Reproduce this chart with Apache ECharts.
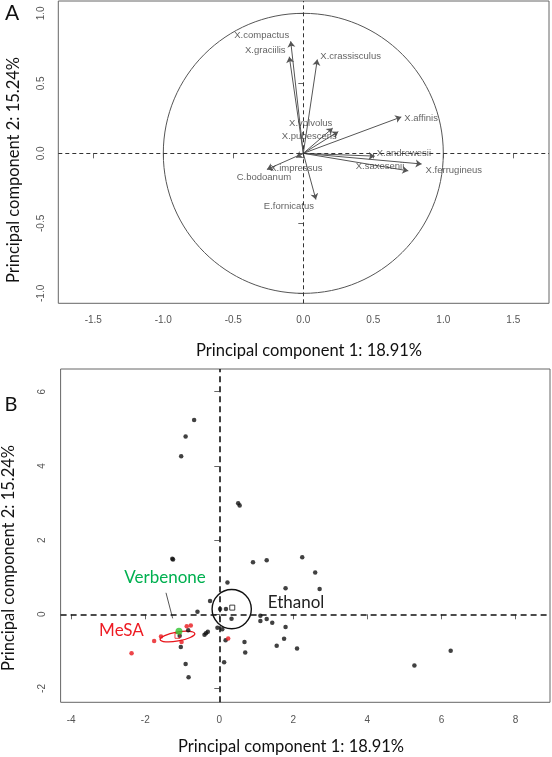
<!DOCTYPE html>
<html><head><meta charset="utf-8">
<script src="https://cdn.jsdelivr.net/npm/echarts@6/dist/echarts.min.js"></script>
<style>html,body{margin:0;padding:0;background:#fff}#c{width:552px;height:757px}</style>
</head><body><div id="c"></div>
<script>
// ---------- DATA ----------
// Panel A: variable loadings (correlation circle)
const speciesNames = ['X.compactus','X.graciilis','X.crassisculus','X.affinis','X.volvolus','X.pubescens','X.andrewesii','X.ferrugineus','X.saxesenii','X.impressus','C.bodoanum','E.fornicatus'];
const loadingPC1 = [-0.09,-0.10, 0.10, 0.70, 0.21, 0.25, 0.51, 0.845, 0.75,-0.05,-0.26, 0.09];
const loadingPC2 = [ 0.80, 0.69, 0.67, 0.26, 0.18, 0.155,-0.02,-0.076,-0.125,-0.03,-0.115,-0.33];
const corCircle = [0, 0, 1]; // cx, cy, radius
const ticksA_x = [-1.5,-1.0,-0.5,0.0,0.5,1.0,1.5];
const ticksA_y = [-1.0,-0.5,0.0,0.5,1.0];

// Panel B: sample scores
const blackPC1 = [-0.68,-0.91,-1.03,0.51,0.55,-1.27,-1.25,0.91,1.28,2.24,2.59,1.79,2.71,0.22,-0.25,-0.59,0.02,0.18,0.33,1.11,1.11,1.28,1.43,1.79,1.75,1.55,2.10,0.68,0.70,0.13,0.17,-0.05,0.08,-0.40,-0.36,-0.31,-0.84,-1.07,-1.04,-0.91,-0.83,5.27,6.25];
const blackPC2 = [5.24,4.79,4.26,2.99,2.93,1.50,1.48,1.40,1.46,1.54,1.13,0.70,0.68,0.86,0.36,0.07,0.14,0.14,-0.12,-0.04,-0.18,-0.13,-0.23,-0.34,-0.66,-0.85,-0.92,-0.75,-1.03,-1.29,-0.70,-0.36,-0.40,-0.55,-0.51,-0.47,-0.43,-0.58,-0.88,-1.34,-1.70,-1.38,-0.98];
const redPC1 = [-2.37,-1.76,-1.575,-1.02,-0.88,-0.77,0.24];
const redPC2 = [-1.05,-0.72,-0.60,-0.75,-0.32,-0.30,-0.65];
const verbenonePC1 = [-1.09];
const verbenonePC2 = [-0.46];
const ethanolCentroid = [0.35, 0.18];
const mesaCentroid = [-1.13, -0.58];
const ethanolEllipse = [0.335, 0.14, 0.53, 0.53, 0];   // cx, cy, rx, ry, angle(deg)
const mesaEllipse = [-1.13, -0.60, 0.475, 0.12, 10];
const verbenonePointer = [[-1.44, 0.58], [-1.26, -0.11]];
const ticksB_x = [-4,-2,0,2,4,6,8];
const ticksB_y = [-2,0,2,4,6];
const titlePC1 = 'Principal component 1: 18.91%';
const titlePC2 = 'Principal component 2: 15.24%';

// ---------- STYLE ----------
const labelOffsets = {
  'X.compactus':[-29,-6,'center'], 'X.graciilis':[-24,-6,'center'], 'X.crassisculus':[3,-3,'left'],
  'X.affinis':[3,1,'left'], 'X.volvolus':[-22,-5,'center'], 'X.pubescens':[-29,5,'center'],
  'X.andrewesii':[2,-3,'left'], 'X.ferrugineus':[4,6,'left'], 'X.saxesenii':[-4,-4,'right'],
  'X.impressus':[0,11,'center'], 'C.bodoanum':[-3,8,'center'], 'E.fornicatus':[-27,7,'center']
};
const tickFont = {fontFamily:'Liberation Sans, Arial, sans-serif', fontSize:10, color:'#555'};
const titleFont = 'Lato, "Noto Sans", sans-serif';

function ellipseRender(color, lw){
  return function(params, api){
    const c = api.coord([api.value(0), api.value(1)]);
    const rx = api.size([api.value(2), 0])[0];
    const ry = api.size([0, api.value(3)])[1];
    return {type:'ellipse', x:c[0], y:c[1], rotation: api.value(4)*Math.PI/180,
      shape:{cx:0, cy:0, rx:rx, ry:ry}, style:{fill:'none', stroke:color, lineWidth:lw}};
  };
}

const pairs = (a,b) => a.map((v,i)=>[v,b[i]]);

const axisCommon = {
  type:'value', axisLine:{show:false}, splitLine:{show:false},
  axisTick:{show:true, inside:false, length:5, lineStyle:{color:'#666'}}
};

const option = {
  animation:false,
  grid:[
    {left:58.3, top:1, width:490.7, height:302.3, show:true, borderColor:'#666', borderWidth:1},
    {left:60.6, top:369, width:489.4, height:333.3, show:true, borderColor:'#666', borderWidth:1}
  ],
  xAxis:[
    Object.assign({}, axisCommon, {gridIndex:0, min:-1.75, max:1.755,
      axisTick:Object.assign({}, axisCommon.axisTick, {customValues:ticksA_x}),
      axisLabel:Object.assign({customValues:ticksA_x, margin:12, formatter:v=>Number(v).toFixed(1)}, tickFont)}),
    Object.assign({}, axisCommon, {gridIndex:1, min:-4.287, max:8.933,
      axisTick:Object.assign({}, axisCommon.axisTick, {customValues:ticksB_x}),
      axisLabel:Object.assign({customValues:ticksB_x, margin:13, formatter:v=>String(v)}, tickFont)})
  ],
  yAxis:[
    Object.assign({}, axisCommon, {gridIndex:0, min:-1.071, max:1.088,
      axisTick:Object.assign({}, axisCommon.axisTick, {customValues:ticksA_y}),
      axisLabel:Object.assign({customValues:ticksA_y, rotate:90, margin:12, formatter:v=>Number(v).toFixed(1)}, tickFont)}),
    Object.assign({}, axisCommon, {gridIndex:1, min:-2.372, max:6.612,
      axisTick:Object.assign({}, axisCommon.axisTick, {customValues:ticksB_y}),
      axisLabel:Object.assign({customValues:ticksB_y, rotate:90, margin:13, formatter:v=>String(v)}, tickFont)})
  ],
  series:[
    // Panel A circle + reference lines
    {type:'custom', xAxisIndex:0, yAxisIndex:0, clip:false,
     data:[[corCircle[0], corCircle[1], corCircle[2], corCircle[2], 0]],
     encode:{x:0,y:1}, renderItem: ellipseRender('#555', 1), silent:true,
     markLine:{symbol:'none', silent:true, label:{show:false},
       lineStyle:{type:[4,3], color:'#333', width:1},
       data:[{xAxis:0},{yAxis:0}]}},
    {type:'lines', coordinateSystem:'cartesian2d', xAxisIndex:0, yAxisIndex:0,
     symbol:['none','arrow'], symbolSize:[0,6],
     lineStyle:{color:'#555', width:1, opacity:1},
     data: speciesNames.map((n,i)=>({coords:[[0,0],[loadingPC1[i], loadingPC2[i]]]}))},
    {type:'scatter', xAxisIndex:0, yAxisIndex:0, symbolSize:0, silent:true,
     data: speciesNames.map((n,i)=>{
       const o = labelOffsets[n];
       return {name:n, value:[loadingPC1[i], loadingPC2[i]],
         label:{show:true, formatter:n, position:[0,0], offset:[o[0],o[1]], align:o[2], verticalAlign:'middle',
           fontFamily:'Liberation Sans, Arial, sans-serif', fontSize:9.5, color:'#3a3a3a'}};
     })},
    // Panel B
    {type:'scatter', xAxisIndex:1, yAxisIndex:1, symbol:'circle', symbolSize:4.5,
     itemStyle:{color:'#111'}, data: pairs(blackPC1, blackPC2),
     markLine:{symbol:'none', silent:true, label:{show:false},
       lineStyle:{type:[6,4], color:'#111', width:1.6},
       data:[{xAxis:0},{yAxis:0}]}},
    {type:'scatter', xAxisIndex:1, yAxisIndex:1, symbol:'circle', symbolSize:4.5,
     itemStyle:{color:'#e8161c'}, data: pairs(redPC1, redPC2)},
    {type:'scatter', xAxisIndex:1, yAxisIndex:1, symbol:'rect', symbolSize:5,
     itemStyle:{color:'#fff', borderColor:'#111', borderWidth:1}, data:[ethanolCentroid]},
    {type:'scatter', xAxisIndex:1, yAxisIndex:1, symbol:'rect', symbolSize:5,
     itemStyle:{color:'rgba(0,0,0,0)', borderColor:'#e8161c', borderWidth:1}, data:[mesaCentroid]},
    {type:'custom', xAxisIndex:1, yAxisIndex:1, clip:false, silent:true,
     data:[ethanolEllipse], encode:{x:0,y:1}, renderItem: ellipseRender('#111', 1.4)},
    {type:'custom', xAxisIndex:1, yAxisIndex:1, clip:false, silent:true,
     data:[mesaEllipse], encode:{x:0,y:1}, renderItem: ellipseRender('#e8161c', 1.3)},
    {type:'scatter', xAxisIndex:1, yAxisIndex:1, symbol:'circle', symbolSize:7,
     itemStyle:{color:'#2ec42e'}, data: pairs(verbenonePC1, verbenonePC2)},
    {type:'lines', coordinateSystem:'cartesian2d', xAxisIndex:1, yAxisIndex:1,
     lineStyle:{color:'#555', width:1, opacity:1}, data:[{coords:verbenonePointer}]}
  ],
  graphic:[
    {type:'text', left:5, top:3, style:{text:'A', fontFamily:titleFont, fontSize:21, fill:'#111'}},
    {type:'text', x:14, y:170, rotation:Math.PI/2, style:{text:titlePC2, fontFamily:titleFont, fontSize:16.5, fill:'#111', align:'center', verticalAlign:'middle'}},
    {type:'text', x:309, y:351, style:{text:titlePC1, fontFamily:titleFont, fontSize:16.5, fill:'#111', align:'center', verticalAlign:'middle'}},
    {type:'text', x:11, y:405, style:{text:'B', fontFamily:titleFont, fontSize:20, fill:'#111', align:'center', verticalAlign:'middle'}},
    {type:'text', x:9, y:558, rotation:Math.PI/2, style:{text:titlePC2, fontFamily:titleFont, fontSize:16.5, fill:'#111', align:'center', verticalAlign:'middle'}},
    {type:'text', x:291, y:747, style:{text:titlePC1, fontFamily:titleFont, fontSize:16.5, fill:'#111', align:'center', verticalAlign:'middle'}},
    {type:'text', x:165, y:578, style:{text:'Verbenone', fontFamily:titleFont, fontSize:17, fill:'#00b050', align:'center', verticalAlign:'middle'}},
    {type:'text', x:121.5, y:631, style:{text:'MeSA', fontFamily:titleFont, fontSize:17, fill:'#ed1c24', align:'center', verticalAlign:'middle'}},
    {type:'text', x:296, y:603, style:{text:'Ethanol', fontFamily:titleFont, fontSize:17, fill:'#222', align:'center', verticalAlign:'middle'}}
  ]
};
const chart = echarts.init(document.getElementById('c'), null, {renderer:'canvas'});
chart.setOption(option);
</script></body></html>
